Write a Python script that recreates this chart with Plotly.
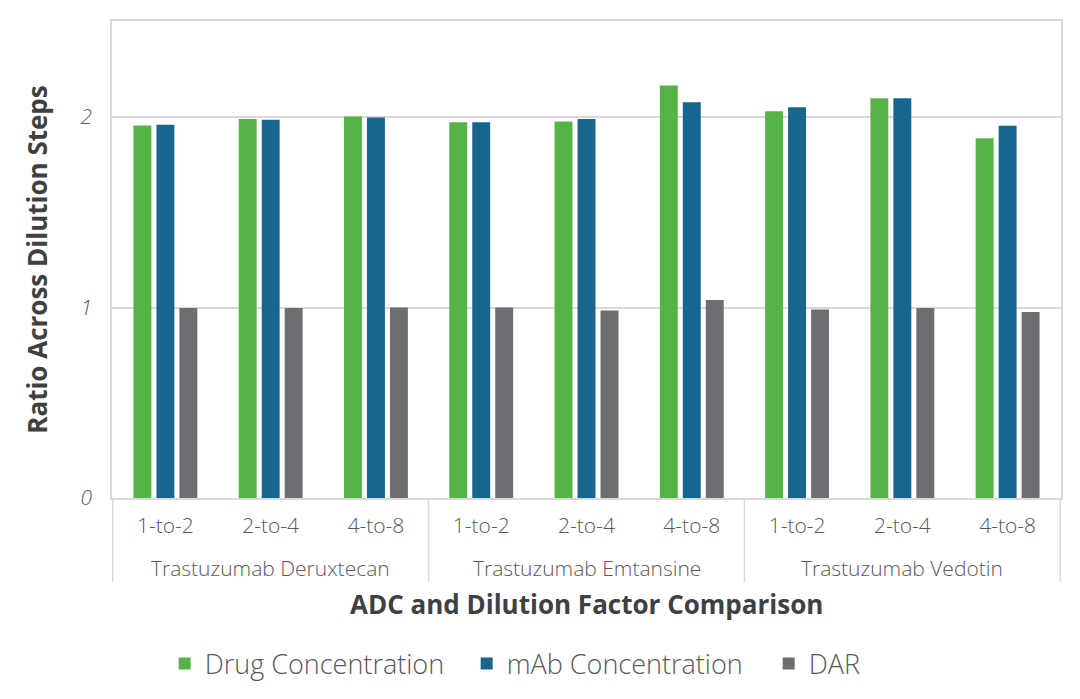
import plotly.graph_objects as go

adc_names = ["Trastuzumab Deruxtecan", "Trastuzumab Emtansine", "Trastuzumab Vedotin"]
dilution_labels = ["1-to-2", "2-to-4", "4-to-8"]

drug = [1.955, 1.99, 2.003, 1.972, 1.977, 2.165, 2.03, 2.098, 1.889]
mab = [1.96, 1.986, 1.998, 1.972, 1.99, 2.077, 2.051, 2.098, 1.954]
dar = [0.998, 0.998, 1.0, 1.0, 0.984, 1.04, 0.99, 0.998, 0.977]

series_names = ["Drug Concentration", "mAb Concentration", "DAR"]
colors = ["#56B447", "#17668E", "#6D6E71"]

x_keys = [f"{a} | {d}" for a in adc_names for d in dilution_labels]
x_text = [d for a in adc_names for d in dilution_labels]

fig = go.Figure()
for name, vals, col in zip(series_names, [drug, mab, dar], colors):
    fig.add_trace(go.Bar(x=x_keys, y=vals, name=name,
                         marker=dict(color=col, line=dict(width=0))))

ff = "Open Sans, Lato, sans-serif"
grid = "#D9D9D9"
fig.update_layout(
    width=1064, height=683,
    paper_bgcolor="white", plot_bgcolor="white",
    margin=dict(l=104, r=11, t=13, b=193, autoexpand=False),
    barmode="group", bargap=0.345, bargroupgap=0.22,
    font=dict(family=ff, color="#595959"),
    showlegend=True,
    legend=dict(orientation="h", xref="container", yref="container", x=0.573, y=0.0395,
                xanchor="center", yanchor="middle",
                font=dict(size=27, color="#595959", family=ff, weight=300),
                itemsizing="constant", traceorder="normal", itemwidth=30,
                entrywidth=257, entrywidthmode="pixels"),
)
fig.update_xaxes(
    type="category", categoryorder="array", categoryarray=x_keys,
    tickvals=x_keys, ticktext=x_text,
    showline=True, mirror=True, linecolor=grid, linewidth=1.5,
    tickfont=dict(size=21, color="#595959", family=ff, weight=300),
    ticklabelstandoff=8,
    showgrid=False, ticks="", automargin=False,
)
fig.update_yaxes(
    range=[0, 2.504], tickvals=[0, 1, 2], ticktext=["0", "1", "2"],
    showline=True, mirror=True, linecolor=grid, linewidth=1.5,
    showgrid=True, gridcolor=grid, gridwidth=1.5,
    zeroline=False, automargin=False,
    tickfont=dict(size=21, color="#595959", family=ff, style="italic", weight=300),
    ticklabelstandoff=14,
    title=dict(text="Ratio Across Dilution Steps", standoff=25,
               font=dict(size=26, color="#404040", family=ff, weight="bold")),
)

# group separators extending below the axis
for xb in [-0.5, 2.5, 5.5, 8.5]:
    fig.add_shape(type="line", xref="x", yref="paper", x0=xb, x1=xb, y0=0, y1=-0.176,
                  line=dict(color=grid, width=1.5))

# group labels
for i, a in enumerate(adc_names):
    fig.add_annotation(text=a, xref="x", yref="paper", x=x_keys[i * 3 + 1], y=-0.147,
                       xanchor="center", yanchor="middle", showarrow=False,
                       font=dict(size=21, color="#595959", family=ff, weight=300))

fig.add_annotation(text="ADC and Dilution Factor Comparison", xref="paper", yref="paper",
                   x=0.5, y=-0.222, xanchor="center", yanchor="middle", showarrow=False,
                   font=dict(size=26, color="#404040", family=ff, weight="bold"))

fig.write_html("out.html")
